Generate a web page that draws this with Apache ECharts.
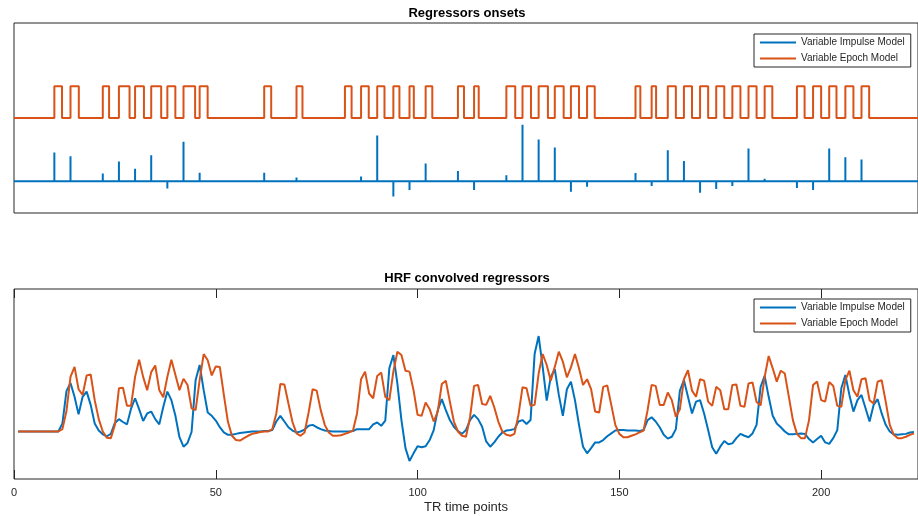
<!DOCTYPE html>
<html>
<head>
<meta charset="utf-8">
<script src="https://cdn.jsdelivr.net/npm/echarts@6/dist/echarts.min.js"></script>
<style>html,body{margin:0;padding:0;background:#fff}#chart{width:918px;height:516px}</style>
</head>
<body>
<div id="chart"></div>
<script>
// ---- Data ----
const seriesNames = ['Variable Impulse Model', 'Variable Epoch Model'];
const xTickStep = 50; // tick labels 0, 50, 100, 150, 200

// Trial onsets (TR), impulse amplitudes and epoch durations (TR)
const onsets = [10,14,22,26,30,34,38,42,46,62,70,82,86,90,94,98,102,110,114,122,126,130,134,138,142,154,158,162,166,170,174,178,182,186,194,198,202,206,210];
const impulseAmp = [0.91,0.79,0.25,0.63,0.40,0.82,-0.23,1.25,0.27,0.27,0.12,0.03,0.15,1.45,-0.48,-0.27,0.56,0.33,-0.27,0.19,1.79,1.32,1.07,-0.33,-0.17,0.26,-0.15,0.98,0.64,-0.36,-0.24,-0.15,1.04,0.08,-0.21,-0.27,1.04,0.76,0.69];
const epochDur = [1.9,2.06,1.56,2.63,2.2,2.47,1.98,2.88,1.98,1.73,1.48,1.65,1.9,1.8,1.5,1.07,1.65,1.5,1.15,2.2,2.1,2.3,2.2,2.0,1.9,1.2,1.1,2.0,2.0,2.0,2.0,2.0,2.0,1.9,1.9,2.0,1.8,2.0,1.9];

// HRF convolved regressors, TR 1..223
const impulseHRF = [0,0,0,0,0,0,0,0,0,0,0,
0.17,0.85,1.02,0.73,0.36,0.73,0.84,0.56,0.17,0.02,
-0.06,-0.10,-0.05,0.18,0.26,0.20,0.15,0.48,0.70,0.47,
0.22,0.38,0.42,0.26,0.15,0.52,0.84,0.66,0.33,-0.12,
-0.32,-0.24,-0.01,1.08,1.40,0.87,0.40,0.33,0.23,0.09,
-0.02,-0.07,-0.07,-0.05,-0.03,-0.02,-0.01,0,0,0,
0.01,0.01,0.03,0.21,0.33,0.21,0.09,0.02,-0.02,0.00,
0.04,0.12,0.14,0.09,0.05,0.02,0.01,0,0,0,
0,0,0.01,0.05,0.05,0.05,0.05,0.15,0.19,0.12,
0.23,1.33,1.61,1.01,0.24,-0.35,-0.62,-0.46,-0.31,-0.33,
-0.31,-0.18,0.03,0.45,0.68,0.45,0.24,0.10,0.01,-0.05,
0.03,0.24,0.35,0.26,0.10,-0.21,-0.32,-0.23,-0.11,-0.02,
0.02,0.03,0.05,0.21,0.24,0.16,0.24,1.63,2.01,1.36,
0.65,1.15,1.31,0.77,0.33,0.89,1.05,0.66,0.14,-0.32,
-0.46,-0.35,-0.23,-0.23,-0.18,-0.10,-0.04,0.02,0.03,0.03,
0.02,0.02,0.02,0.01,0.03,0.24,0.30,0.21,0.09,-0.07,
-0.15,-0.11,0.05,0.86,1.08,0.73,0.38,0.63,0.66,0.38,
0.03,-0.33,-0.47,-0.32,-0.20,-0.27,-0.25,-0.14,-0.05,-0.09,
-0.12,-0.04,0.14,0.94,1.17,0.73,0.33,0.17,0.09,0.00,
-0.06,-0.06,-0.05,-0.04,-0.05,-0.16,-0.23,-0.16,-0.09,-0.23,
-0.26,-0.14,0.03,0.91,1.19,0.77,0.42,0.66,0.77,0.49,
0.21,0.56,0.68,0.38,0.14,0.00,-0.06,-0.07,-0.06,-0.05,
-0.02,-0.01];

const epochHRF = [0,0,0,0,0,0,0,0,0,0,0,
0.05,0.43,1.15,1.36,0.89,0.77,1.18,1.20,0.66,0.26,
0.00,-0.13,-0.14,0.14,0.91,0.92,0.54,0.54,1.15,1.51,
1.15,0.87,1.25,1.39,0.87,0.72,1.15,1.51,1.19,0.87,
1.11,0.98,0.49,0.45,1.08,1.63,1.50,1.18,1.37,1.36,
0.77,0.21,-0.09,-0.18,-0.19,-0.14,-0.09,-0.05,-0.03,-0.01,
0.00,0.00,0.05,0.38,1.00,0.99,0.59,0.20,-0.04,-0.09,
-0.02,0.40,0.89,0.86,0.45,0.14,-0.02,-0.09,-0.09,-0.08,
-0.05,-0.02,0.02,0.38,1.10,1.26,0.80,0.70,1.17,1.24,
0.73,0.66,1.26,1.68,1.61,1.28,1.26,0.87,0.35,0.33,
0.61,0.47,0.21,0.42,1.00,1.07,0.63,0.21,0.00,-0.09,
-0.11,0.30,0.96,0.98,0.58,0.56,0.75,0.51,0.21,0.00,
-0.07,-0.09,-0.05,0.35,0.93,0.91,0.54,0.56,1.22,1.63,
1.40,1.07,1.36,1.68,1.47,1.14,1.35,1.63,1.33,0.98,
1.10,0.89,0.42,0.40,0.94,0.97,0.56,0.14,-0.05,-0.12,
-0.12,-0.09,-0.06,-0.02,0.02,0.45,0.98,0.96,0.56,0.56,
0.82,0.66,0.31,0.47,1.10,1.29,0.86,0.73,1.10,1.07,
0.63,0.54,0.94,0.87,0.47,0.47,0.98,0.99,0.54,0.52,
1.01,1.03,0.62,0.55,1.15,1.59,1.33,1.05,1.28,1.22,
0.73,0.24,-0.05,-0.14,-0.14,0.24,0.98,1.05,0.66,0.63,
1.04,0.96,0.54,0.52,1.08,1.28,0.87,0.73,1.10,1.12,
0.66,0.59,1.05,1.08,0.63,0.14,-0.07,-0.14,-0.14,-0.11,
-0.07,-0.04];

// ---- Build series data ----
const X_MAX = 224;
const EPOCH_OFFSET = 2; // vertical offset of the epoch trace in the onsets panel
const trTimes = impulseHRF.map((_, i) => i + 1);

const impulseOnsetData = [[0, 0]];
onsets.forEach((t, i) => { impulseOnsetData.push([t, 0], [t, impulseAmp[i]], [t, 0]); });
impulseOnsetData.push([X_MAX, 0]);

const epochOnsetData = [[0, EPOCH_OFFSET]];
onsets.forEach((t, i) => {
  const e = t + epochDur[i];
  epochOnsetData.push([t, EPOCH_OFFSET], [t, EPOCH_OFFSET + 1], [e, EPOCH_OFFSET + 1], [e, EPOCH_OFFSET]);
});
epochOnsetData.push([X_MAX, EPOCH_OFFSET]);

const impulseConvData = trTimes.map((t, i) => [t, impulseHRF[i]]);
const epochConvData = trTimes.map((t, i) => [t, epochHRF[i]]);

// ---- Chart ----
const BLUE = '#0072BD', ORANGE = '#D95319', AX = '#262626';
const FONT = '"Liberation Sans", Arial, Helvetica, sans-serif';
const chart = echarts.init(document.getElementById('chart'), null, { renderer: 'canvas' });

const legendBase = {
  orient: 'vertical', left: 754, icon: 'rect', itemWidth: 36, itemHeight: 2,
  itemGap: 3, itemTextGap: 4, padding: [2, 6, 2, 6],
  borderColor: AX, borderWidth: 1, backgroundColor: '#fff',
  textStyle: { fontFamily: FONT, fontSize: 10, color: AX, lineHeight: 13 },
  data: seriesNames, selectedMode: false
};

const noAxis = {
  axisLine: { show: false, onZero: false }, axisTick: { show: false }, axisLabel: { show: false }, splitLine: { show: false }
};

const option = {
  animation: false,
  backgroundColor: '#fff',
  title: [
    { text: 'Regressors onsets', left: 467, top: 7, textAlign: 'center', padding: 0,
      textStyle: { fontFamily: FONT, fontSize: 13, fontWeight: 'bold', color: '#000' } },
    { text: 'HRF convolved regressors', left: 467, top: 272, textAlign: 'center', padding: 0,
      textStyle: { fontFamily: FONT, fontSize: 13, fontWeight: 'bold', color: '#000' } }
  ],
  legend: [
    Object.assign({}, legendBase, { top: 34 }),
    Object.assign({}, legendBase, { top: 299 })
  ],
  grid: [
    { left: 14, top: 23, width: 907, height: 190, show: true, borderColor: AX, borderWidth: 1, backgroundColor: 'transparent' },
    { left: 14, top: 289, width: 907, height: 190, show: true, borderColor: AX, borderWidth: 1, backgroundColor: 'transparent' }
  ],
  xAxis: [
    Object.assign({ type: 'value', gridIndex: 0, min: 0, max: X_MAX }, noAxis),
    { type: 'value', gridIndex: 1, min: 0, max: X_MAX, interval: xTickStep, position: 'bottom',
      axisLine: { show: false, onZero: false },
      axisTick: { show: true, inside: true, length: 9, lineStyle: { color: AX, width: 1 } },
      axisLabel: { show: true, margin: 8, color: AX, fontFamily: FONT, fontSize: 11, showMaxLabel: false },
      splitLine: { show: false },
      name: 'TR time points', nameLocation: 'middle', nameGap: 22,
      nameTextStyle: { fontFamily: FONT, fontSize: 13, color: AX } },
    { type: 'value', gridIndex: 1, min: 0, max: X_MAX, interval: xTickStep, position: 'top',
      axisLine: { show: false, onZero: false },
      axisTick: { show: true, inside: true, length: 9, lineStyle: { color: AX, width: 1 } },
      axisLabel: { show: false }, splitLine: { show: false } }
  ],
  yAxis: [
    Object.assign({ type: 'value', gridIndex: 0, min: -1, max: 5 }, noAxis),
    Object.assign({ type: 'value', gridIndex: 1, min: -1, max: 3 }, noAxis)
  ],
  series: [
    { name: seriesNames[0], type: 'line', xAxisIndex: 0, yAxisIndex: 0, data: impulseOnsetData,
      showSymbol: false, symbol: 'none', lineStyle: { color: BLUE, width: 2 }, itemStyle: { color: BLUE } },
    { name: seriesNames[1], type: 'line', xAxisIndex: 0, yAxisIndex: 0, data: epochOnsetData,
      showSymbol: false, symbol: 'none', lineStyle: { color: ORANGE, width: 2 }, itemStyle: { color: ORANGE } },
    { name: seriesNames[0], type: 'line', xAxisIndex: 1, yAxisIndex: 1, data: impulseConvData,
      showSymbol: false, symbol: 'none', lineStyle: { color: BLUE, width: 2 }, itemStyle: { color: BLUE } },
    { name: seriesNames[1], type: 'line', xAxisIndex: 1, yAxisIndex: 1, data: epochConvData,
      showSymbol: false, symbol: 'none', lineStyle: { color: ORANGE, width: 2 }, itemStyle: { color: ORANGE } }
  ]
};
chart.setOption(option);
</script>
</body>
</html>
